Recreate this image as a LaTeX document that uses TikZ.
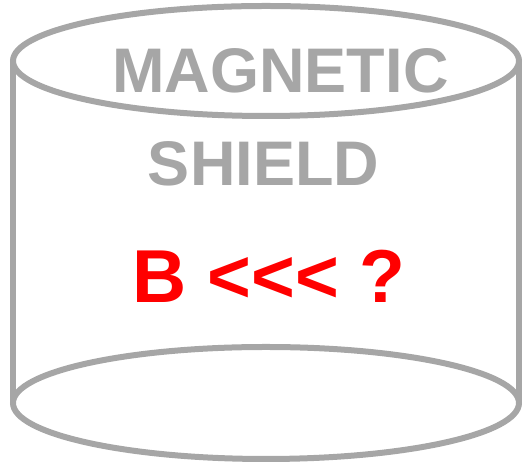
\documentclass[tikz,border=0pt]{standalone}
\usepackage{fontspec}
\setmainfont{Liberation Sans}
\definecolor{shieldgray}{RGB}{166,166,166}
\definecolor{bred}{RGB}{255,0,0}
\tikzset{
  shieldline/.style={draw=shieldgray, line width=6pt},
  graytext/.style={text=shieldgray, inner sep=0pt, anchor=base, font=\bfseries\fontsize{63}{63}\selectfont},
  redtext/.style={text=bred, inner sep=0pt, anchor=base, font=\bfseries\fontsize{75}{75}\selectfont}
}
\begin{document}
\begin{tikzpicture}[x=1pt,y=1pt]
\useasboundingbox (0,0) rectangle (523,465);
% sides
\draw[shieldline] (13,404) -- (13,62);
\draw[shieldline] (519,404) -- (519,62);
% top ellipse
\draw[shieldline, fill=white] (266,404) ellipse [x radius=253, y radius=55];
% bottom ellipse
\draw[shieldline] (266,62) ellipse [x radius=253, y radius=56];
% texts
\node[graytext] (mag) at (280.5,372) {MAGNETIC};
\node[graytext] (shield) at (263.5,279) {SHIELD};
\node[redtext] (bfield) at (269,162) {B <\kern0pt<\kern0pt< ?};
\end{tikzpicture}
\end{document}
